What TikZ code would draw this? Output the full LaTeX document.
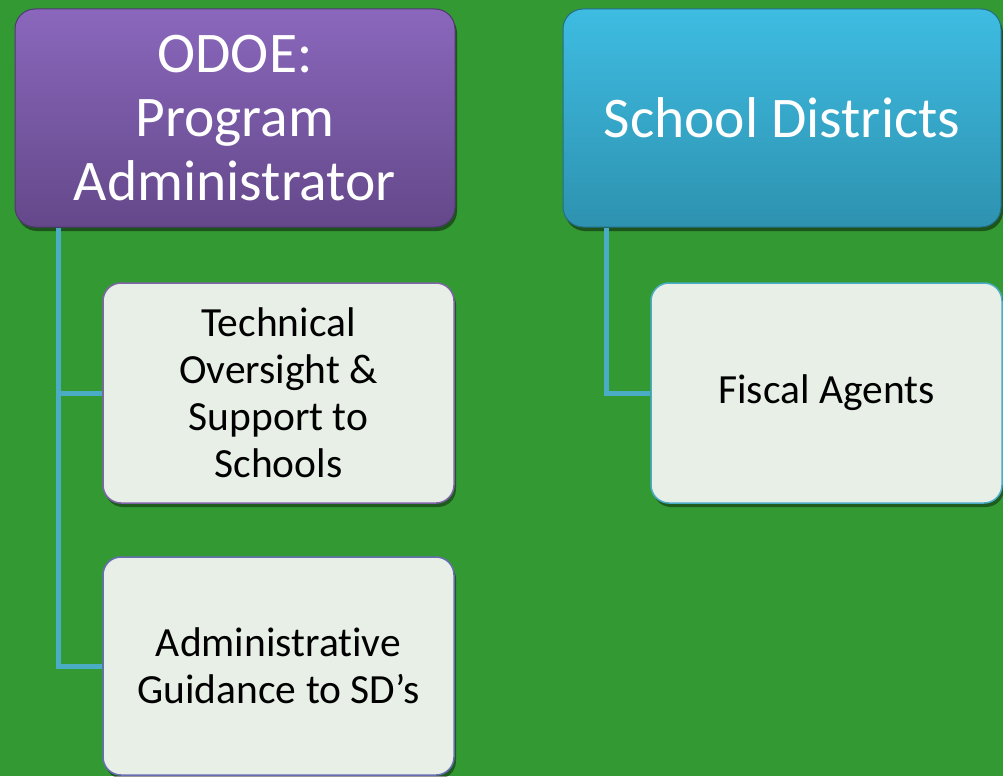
\documentclass[tikz,border=0pt]{standalone}
\usepackage{fontspec}
\setmainfont{Carlito}[Ligatures=CommonOff]
\usetikzlibrary{shadows}
\definecolor{bg}{RGB}{51,153,51}
\definecolor{conncol}{RGB}{75,172,198}
\definecolor{purpTop}{RGB}{138,103,188}
\definecolor{purpBot}{RGB}{100,72,138}
\definecolor{purpEdge}{RGB}{80,56,112}
\definecolor{blueTop}{RGB}{62,188,226}
\definecolor{blueBot}{RGB}{46,146,176}
\definecolor{blueEdge}{RGB}{36,110,134}
\definecolor{childFill}{RGB}{231,239,231}
\definecolor{purpLine}{RGB}{128,100,168}
\definecolor{admLine}{RGB}{105,110,180}
\tikzset{
  headbox/.style={rounded corners=20pt, minimum width=440pt, minimum height=218pt,
    inner sep=0pt, align=center, text=white,
    font=\fontsize{57.5}{64}\selectfont,
    drop shadow={shadow xshift=2pt, shadow yshift=-4pt, opacity=0.45, fill=black}},
  childbox/.style={rounded corners=18pt, minimum width=351pt, minimum height=220pt,
    inner sep=0pt, align=center, text=black, fill=childFill, line width=1.5pt,
    font=\fontsize{41.5}{47}\selectfont,
    drop shadow={shadow xshift=2pt, shadow yshift=-4pt, opacity=0.4, fill=black}},
  conn/.style={draw=conncol, line width=5pt}
}
\begin{document}
\begin{tikzpicture}[x=1pt, y=-1pt]
\fill[bg] (0,0) rectangle (1003,776);
\useasboundingbox (0,0) rectangle (1003,776);
\node[headbox, top color=purpTop, bottom color=purpBot, draw=purpEdge, line width=1pt]
  (odoe) at (235,118) {ODOE:\\Program\\Administrator};
\node[headbox, minimum width=438pt, top color=blueTop, bottom color=blueBot, draw=blueEdge, line width=1pt]
  (sd) at (782,118) {School Districts};
\node[childbox, draw=purpLine] (tech) at (278.5,393) {Technical\\Oversight \&\\Support to\\Schools};
\node[childbox, draw=admLine, minimum height=218pt] (adm) at (278.5,666) {Administrative\\Guidance to SD’s};
\node[childbox, draw=conncol] (fisc) at (826.5,393) {Fiscal Agents};
\draw[conn] ([xshift=44pt]odoe.south west) |- (adm.west);
\draw[conn] ([xshift=44pt]odoe.south west) |- (tech.west);
\draw[conn] ([xshift=44pt]sd.south west) |- (fisc.west);
\end{tikzpicture}
\end{document}
